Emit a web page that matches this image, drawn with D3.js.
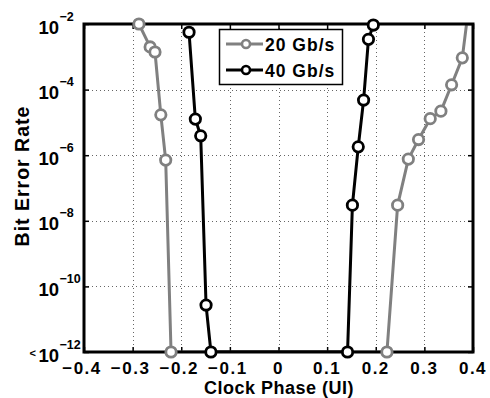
<!DOCTYPE html>
<html>
<head>
<meta charset="utf-8">
<script src="https://cdn.jsdelivr.net/npm/d3@7"></script>
<style>
  html, body { margin: 0; padding: 0; background: #fff; }
  svg { display: block; }
  text { font-family: "Liberation Sans", Arial, Helvetica, sans-serif; font-weight: bold; fill: #000; }
</style>
</head>
<body>
<svg id="chart" width="490" height="398"></svg>
<script>
// ---- data ----
const seriesNames = ["20 Gb/s", "40 Gb/s"];
const seriesColors = ["#808080", "#000000"];
// 20 Gb/s: clock phase (UI) and BER
const phase20 = [-0.287, -0.264, -0.254, -0.242, -0.232, -0.221, 0.223, 0.245, 0.267, 0.288, 0.312, 0.334, 0.356, 0.378, 0.391];
const ber20   = [1.0e-2, 2.0e-3, 1.4e-3, 1.7e-5, 7.1e-7, 1e-12, 1e-12, 3.0e-8, 7.6e-7, 3.0e-6, 1.3e-5, 2.2e-5, 1.4e-4, 9.3e-4, 3.2e-2];
// 40 Gb/s
const phase40 = [-0.184, -0.171, -0.160, -0.149, -0.139, 0.142, 0.152, 0.164, 0.175, 0.185, 0.195];
const ber40   = [5.6e-3, 1.26e-5, 3.9e-6, 2.7e-11, 1e-12, 1e-12, 3.0e-8, 1.8e-6, 4.8e-5, 3.4e-3, 9.3e-3];
// axes
const xTicks = [-0.4, -0.3, -0.2, -0.1, 0, 0.1, 0.2, 0.3, 0.4];
const yTickExps = [-2, -4, -6, -8, -10, -12];
const xLabel = "Clock Phase (UI)";
const yLabel = "Bit Error Rate";

// ---- layout ----
const svg = d3.select("#chart");
const L = 84, T = 24, R = 473, B = 352;
const x = d3.scaleLinear().domain([-0.4, 0.4]).range([L, R]);
const y = d3.scaleLog().domain([1e-12, 1e-2]).range([B, T]);

// clip
svg.append("defs").append("clipPath").attr("id", "plotclip")
  .append("rect").attr("x", L).attr("y", T).attr("width", R - L).attr("height", B - T);

// grid
const grid = svg.append("g").attr("stroke", "#666").attr("stroke-width", 1).attr("stroke-dasharray", "1,3");
grid.selectAll("line.gx").data(xTicks.slice(1, -1)).join("line")
  .attr("x1", d => Math.round(x(d)) + 0.5).attr("x2", d => Math.round(x(d)) + 0.5)
  .attr("y1", T).attr("y2", B);
grid.selectAll("line.gy").data(yTickExps.slice(1, -1)).join("line")
  .attr("y1", d => Math.round(y(Math.pow(10, d))) + 0.5).attr("y2", d => Math.round(y(Math.pow(10, d))) + 0.5)
  .attr("x1", L).attr("x2", R);

// axes via d3 axis (ticks inward, labels drawn separately)
const tickLen = 5;
svg.append("g").attr("transform", `translate(0,${B})`)
  .call(d3.axisBottom(x).tickValues(xTicks).tickSize(-tickLen).tickFormat(""))
  .call(g => g.select(".domain").remove())
  .selectAll("line").attr("stroke", "#000").attr("stroke-width", 1.5);
svg.append("g").attr("transform", `translate(0,${T})`)
  .call(d3.axisTop(x).tickValues(xTicks).tickSize(-tickLen).tickFormat(""))
  .call(g => g.select(".domain").remove())
  .selectAll("line").attr("stroke", "#000").attr("stroke-width", 1.5);
svg.append("g").attr("transform", `translate(${L},0)`)
  .call(d3.axisLeft(y).tickValues(yTickExps.map(e => Math.pow(10, e))).tickSize(-tickLen).tickFormat(""))
  .call(g => g.select(".domain").remove())
  .selectAll("line").attr("stroke", "#000").attr("stroke-width", 1.5);
svg.append("g").attr("transform", `translate(${R},0)`)
  .call(d3.axisRight(y).tickValues(yTickExps.map(e => Math.pow(10, e))).tickSize(-tickLen).tickFormat(""))
  .call(g => g.select(".domain").remove())
  .selectAll("line").attr("stroke", "#000").attr("stroke-width", 1.5);

// series
const line = d3.line().x(d => x(d[0])).y(d => y(d[1]));
const data = [d3.zip(phase20, ber20), d3.zip(phase40, ber40)];
const plot = svg.append("g").attr("clip-path", "url(#plotclip)");
data.forEach((pts, i) => {
  plot.append("path").datum(pts).attr("d", line)
    .attr("fill", "none").attr("stroke", seriesColors[i]).attr("stroke-width", 3)
    .attr("stroke-linejoin", "round");
});
// box
svg.append("rect").attr("x", L).attr("y", T).attr("width", R - L).attr("height", B - T)
  .attr("fill", "none").attr("stroke", "#000").attr("stroke-width", 3);
// markers (drawn over box like Matlab)
data.forEach((pts, i) => {
  svg.append("g").selectAll("circle").data(pts.filter(p => p[1] <= 1.0001e-2)).join("circle")
    .attr("cx", d => x(d[0])).attr("cy", d => y(d[1])).attr("r", 5.2)
    .attr("fill", "#fff").attr("stroke", seriesColors[i]).attr("stroke-width", 2.8);
});

// x tick labels
svg.append("g").selectAll("text").data(xTicks).join("text")
  .attr("x", d => x(d) - (d < 0 ? 2 : 0)).attr("y", 374)
  .attr("text-anchor", "middle").attr("font-size", 17).attr("letter-spacing", "1.5px")
  .text(d => d === 0 ? "0" : (d < 0 ? "\u2212" : "") + Math.abs(d).toFixed(1));

// y tick labels
const yl = svg.append("g");
yTickExps.forEach(e => {
  const yy = y(Math.pow(10, e));
  yl.append("text").attr("x", 59).attr("y", yy + 9.5).attr("text-anchor", "end")
    .attr("font-size", 18.5).text("10");
  yl.append("text").attr("x", 59.5).attr("y", yy - 3.5).attr("text-anchor", "start")
    .attr("font-size", 12.5).text("\u2212" + Math.abs(e));
  if (e === -12) {
    yl.append("text").attr("x", 36).attr("y", yy + 5).attr("text-anchor", "end")
      .attr("font-size", 11).text("<");
  }
});

// axis labels
svg.append("text").attr("x", 279).attr("y", 393.5).attr("text-anchor", "middle")
  .attr("font-size", 18).attr("letter-spacing", "0.5px").text(xLabel);
svg.append("text").attr("transform", "translate(28.5,176) rotate(-90)").attr("text-anchor", "middle")
  .attr("font-size", 19.5).attr("letter-spacing", "1px").text(yLabel);

// legend
const lg = svg.append("g");
lg.append("rect").attr("x", 219.5).attr("y", 29.5).attr("width", 123).attr("height", 55)
  .attr("fill", "#fff").attr("stroke", "#000").attr("stroke-width", 1.5);
const legY = [44, 70];
seriesNames.forEach((name, i) => {
  lg.append("line").attr("x1", 226).attr("x2", 263).attr("y1", legY[i]).attr("y2", legY[i])
    .attr("stroke", seriesColors[i]).attr("stroke-width", 3);
  lg.append("circle").attr("cx", 246).attr("cy", legY[i]).attr("r", 4)
    .attr("fill", "#fff").attr("stroke", seriesColors[i]).attr("stroke-width", 2.6);
  lg.append("text").attr("x", 265).attr("y", legY[i] + 6.5).attr("font-size", 17.5)
    .attr("letter-spacing", "1px").text(name);
});
</script>
</body>
</html>
